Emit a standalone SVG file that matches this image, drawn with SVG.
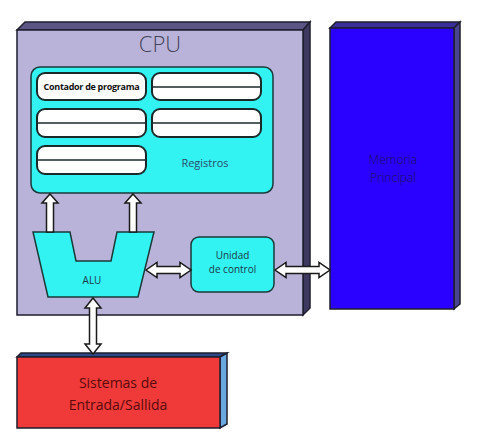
<svg xmlns="http://www.w3.org/2000/svg" width="481" height="445" viewBox="0 0 481 445">
<style>
.fr{stroke:#1e1e2e;stroke-width:1.5}
.reg{fill:#ffffff;stroke:#1a2a2a;stroke-width:2}
.mid{stroke:#1a2a2a;stroke-width:1.5}
.cy{fill:#33f2f2;stroke:#1a3a3a;stroke-width:1.5}
.arr{fill:#ffffff;stroke:#1a1a1a;stroke-width:1.5;stroke-linejoin:miter}
.t{font-family:"Open Sans","Liberation Sans",sans-serif}
</style>
<rect width="481" height="445" fill="#ffffff"/>
<g id="cpu">
<polygon points="17,30 25,22 310,22 303,30" fill="#5a5585" class="fr"/>
<polygon points="303,30 310,22 310,308 303,315" fill="#3c3860" class="fr"/>
<rect x="17" y="30" width="286" height="285" fill="#bab3d9" class="fr"/>
<text x="160" y="52" text-anchor="middle" class="t" font-size="22" font-weight="300" fill="#444458">CPU</text>
</g>
<g id="registros">
<rect x="31" y="67" width="242" height="126" rx="9" class="cy"/>
<rect x="37" y="73" width="109" height="27" rx="8" class="reg"/>
<text x="91.5" y="90" text-anchor="middle" class="t" font-size="9" font-weight="bold" fill="#111" letter-spacing="-0.3">Contador de programa</text>
<rect x="152" y="73" width="109" height="27" rx="8" class="reg"/>
<line x1="153" y1="87" x2="260" y2="87" class="mid"/>
<rect x="37" y="109" width="109" height="28" rx="8" class="reg"/>
<line x1="38" y1="123" x2="145" y2="123" class="mid"/>
<rect x="152" y="109" width="109" height="28" rx="8" class="reg"/>
<line x1="153" y1="123" x2="260" y2="123" class="mid"/>
<rect x="37" y="146" width="109" height="28" rx="8" class="reg"/>
<line x1="38" y1="160" x2="145" y2="160" class="mid"/>
<text x="205" y="167" text-anchor="middle" class="t" font-size="11" fill="#2c4a6a">Registros</text>
</g>
<g id="alu">
<polygon points="33,232 70,232 76,261 111,261 117,232 154,232 138,297 48,297" class="cy"/>
<text x="92" y="284" text-anchor="middle" class="t" font-size="10" fill="#1a3a4a">ALU</text>
</g>
<g id="unidad">
<rect x="191" y="237" width="83" height="55" rx="8" class="cy"/>
<text x="232.5" y="259" text-anchor="middle" class="t" font-size="10" fill="#1a3a4a">Unidad</text>
<text x="232.5" y="273" text-anchor="middle" class="t" font-size="10" fill="#1a3a4a">de control</text>
</g>
<g id="memoria">
<polygon points="330,28 336,22 460,22 454,28" fill="#3a2f9a" class="fr"/>
<polygon points="454,28 460,22 460,304 454,309" fill="#4a4590" class="fr"/>
<rect x="330" y="28" width="124" height="281" fill="#2a00ff" class="fr"/>
<text x="393" y="164" text-anchor="middle" class="t" font-size="12" font-weight="300" fill="#1a1060">Memoria</text>
<text x="393" y="182" text-anchor="middle" class="t" font-size="12" font-weight="300" fill="#1a1060">Principal</text>
</g>
<g id="es">
<polygon points="17,357 21,353 227,353 220,357" fill="#2a4a8a" class="fr"/>
<polygon points="220,357 227,353 227,424 220,428" fill="#6aa8e0" class="fr"/>
<rect x="17" y="357" width="203" height="71" fill="#f03a3a" class="fr"/>
<text x="118" y="388" text-anchor="middle" class="t" font-size="14" fill="#5a0a0a">Sistemas de</text>
<text x="118" y="410" text-anchor="middle" class="t" font-size="14" fill="#5a0a0a">Entrada/Sallida</text>
</g>
<g id="connectors">
<polygon points="50,194 58,203 53.5,203 53.5,232 46.5,232 46.5,203 42,203" class="arr"/>
<polygon points="133,194 141,203 136.5,203 136.5,232 129.5,232 129.5,203 125,203" class="arr"/>
<polygon points="146,270 157,262.5 157,266.5 180,266.5 180,262.5 191,270 180,277.5 180,273.5 157,273.5 157,277.5" class="arr"/>
<polygon points="275,270 286,262.5 286,266.5 319,266.5 319,262.5 330,270 319,277.5 319,273.5 286,273.5 286,277.5" class="arr"/>
<polygon points="93,298 101,308 96.5,308 96.5,344 101,344 93,354 85,344 89.5,344 89.5,308 85,308" class="arr"/>
</g>
</svg>
